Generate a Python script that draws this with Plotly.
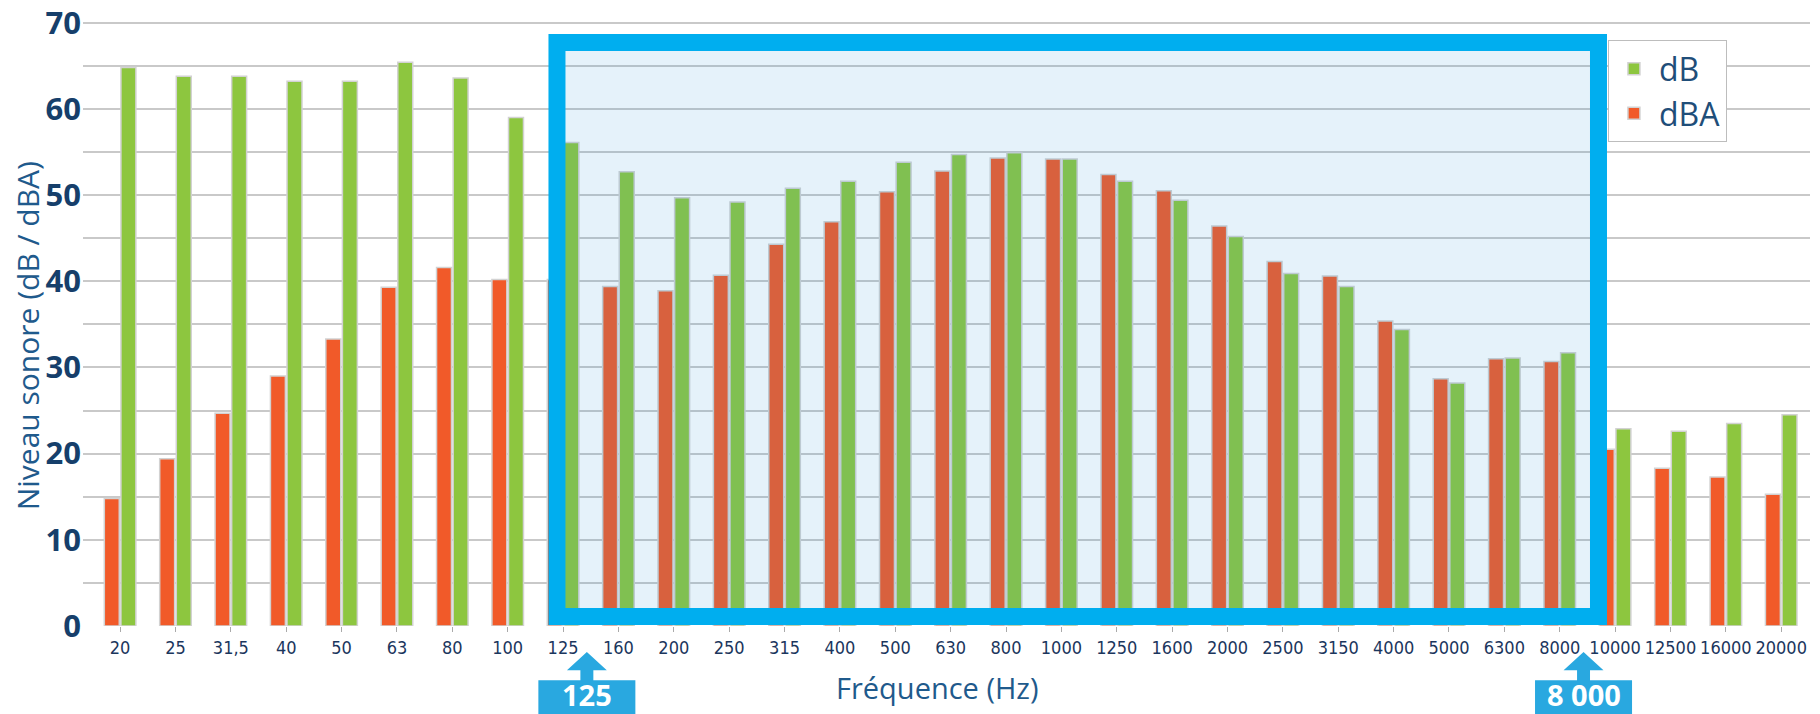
import plotly.graph_objects as go

# ---- data ----
categories = ["20", "25", "31,5", "40", "50", "63", "80", "100", "125", "160", "200",
              "250", "315", "400", "500", "630", "800", "1000", "1250", "1600", "2000",
              "2500", "3150", "4000", "5000", "6300", "8000", "10000", "12500", "16000", "20000"]
dBA = [14.8, 19.4, 24.7, 29.0, 33.3, 39.3, 41.6, 40.2, 40.2, 39.4, 38.9,
       40.7, 44.3, 46.9, 50.4, 52.8, 54.3, 54.2, 52.4, 50.5, 46.4,
       42.3, 40.6, 35.4, 28.7, 31.0, 30.7, 20.5, 18.3, 17.3, 15.3]
dB = [64.8, 63.8, 63.8, 63.2, 63.2, 65.4, 63.6, 59.0, 56.1, 52.7, 49.7,
      49.2, 50.8, 51.6, 53.8, 54.7, 54.9, 54.2, 51.6, 49.4, 45.2,
      40.9, 39.4, 34.4, 28.2, 31.1, 31.7, 22.9, 22.6, 23.5, 24.5]
y_ticks = [0, 10, 20, 30, 40, 50, 60, 70]
highlight_range = ("125", "8000")
highlight_labels = ["125", "8 000"]

# ---- style ----
RED = "#F15A29"
GREEN = "#8DC63F"
BOX_BLUE = "#00AEEF"
CALLOUT_BLUE = "#29A8E0"
NAVY = "#163F6B"
TITLE_BLUE = "#1F5A8C"
TICK_FONT = "DejaVu Sans Condensed, Liberation Sans Narrow, sans-serif"

fig = go.Figure()
fig.add_trace(go.Bar(name="dBA", x=categories, y=dBA,
                     marker=dict(color=RED, line=dict(color="#D2D2D2", width=1.5))))
fig.add_trace(go.Bar(name="dB", x=categories, y=dB,
                     marker=dict(color=GREEN, line=dict(color="#D2D2D2", width=1.5))))

i0 = categories.index(highlight_range[0])
i1 = categories.index(highlight_range[1])

shapes = [
    dict(type="rect", xref="x", yref="y", x0=i0 - 0.11, x1=i1 + 0.70, y0=1.1, y1=67.7,
         line=dict(color=BOX_BLUE, width=17),
         fillcolor="rgba(40,150,215,0.12)", layer="above"),
]

# callout arrows + boxes below the axis (paper y)
tip, base, stem_b, box_b = -0.043, -0.073, -0.0896, -0.146
annotations = []
for idx, label in zip((i0, i1), highlight_labels):
    cx = idx + 0.43
    tw, sw, bw = 0.36, 0.117, 0.876
    path = (f"M {cx},{tip} L {cx + tw},{base} L {cx + sw},{base} L {cx + sw},{stem_b} "
            f"L {cx + bw},{stem_b} L {cx + bw},{box_b} L {cx - bw},{box_b} L {cx - bw},{stem_b} "
            f"L {cx - sw},{stem_b} L {cx - sw},{base} L {cx - tw},{base} Z")
    shapes.append(dict(type="path", xref="x", yref="paper", path=path,
                       fillcolor=CALLOUT_BLUE, line=dict(width=0), layer="above"))
    annotations.append(dict(x=cx, y=-0.114, xref="x", yref="paper",
                            text=label, showarrow=False, xanchor="center", yanchor="middle",
                            font=dict(family="Open Sans, sans-serif", size=29, color="white",
                                      weight="bold")))

annotations.append(dict(x=-0.032, y=0.48, xref="paper", yref="paper",
                        text="Niveau sonore (dB / dBA)", textangle=-90, showarrow=False,
                        xanchor="center", yanchor="middle",
                        font=dict(family="Open Sans, sans-serif", size=30, color=TITLE_BLUE)))
annotations.append(dict(x=0.4945, y=-0.101, xref="paper", yref="paper",
                        text="Fréquence (Hz)", showarrow=False,
                        xanchor="center", yanchor="middle",
                        font=dict(family="Open Sans, sans-serif", size=29, color=TITLE_BLUE)))

fig.update_layout(
    width=1820, height=714,
    margin=dict(l=83, r=10, t=21, b=88, autoexpand=False),
    paper_bgcolor="white", plot_bgcolor="white",
    barmode="group", bargap=0.4, bargroupgap=0.1,
    shapes=shapes, annotations=annotations,
    showlegend=True,
    legend=dict(x=0.883, y=0.968, xanchor="left", yanchor="top",
                traceorder="reversed", bgcolor="white",
                bordercolor="#BDBDBD", borderwidth=1,
                font=dict(family="Open Sans, sans-serif", size=32, color="#1F4E79"),
                itemwidth=40),
    xaxis=dict(type="category", range=[-0.67, len(categories) - 1 + 0.52],
               automargin=False, tickangle=0,
               showgrid=False, showline=False, zeroline=False,
               ticks="outside", ticklen=5, tickcolor="#AAAAAA", tickwidth=1,
               tickfont=dict(family=TICK_FONT, size=18, color="#1B365D")),
    yaxis=dict(range=[0, 70.2], tickvals=y_ticks, showline=False, zeroline=False,
               automargin=False, ticklabeloverflow="allow",
               showgrid=True, gridcolor="#C9C9C9", gridwidth=1.5,
               minor=dict(dtick=5, showgrid=True, gridcolor="#C9C9C9", gridwidth=1.5),
               ticks="", ticklabelstandoff=1,
               tickfont=dict(family="Open Sans, sans-serif", size=31, color=NAVY,
                             weight="bold")),
)

fig.write_html("out.html", config={"displayModeBar": False},
               post_script="document.body.style.margin='0';"
                           "document.body.style.overflow='hidden';")
